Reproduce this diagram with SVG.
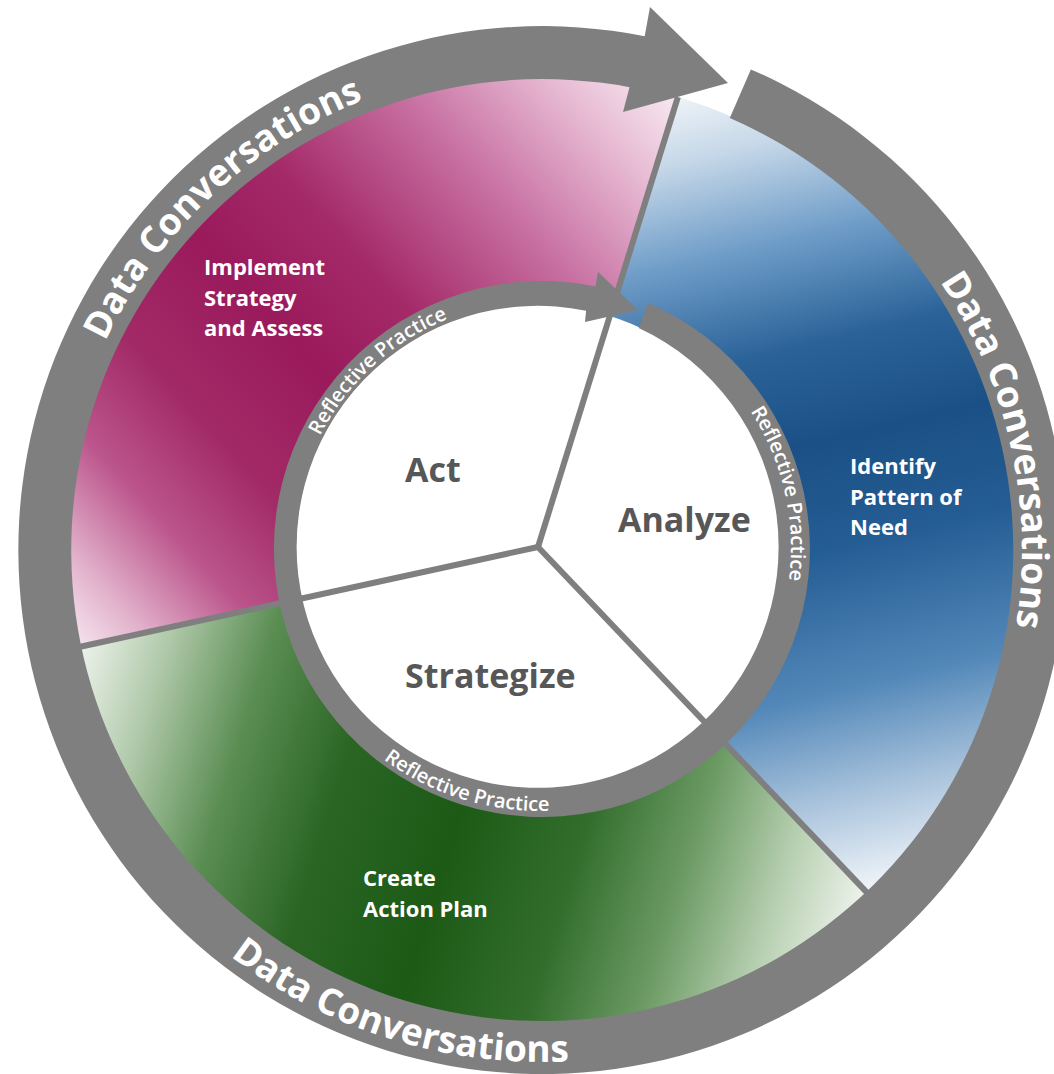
<svg xmlns="http://www.w3.org/2000/svg" width="1054" height="1074" viewBox="0 0 1054 1074">
<defs>
<linearGradient id="gPink" gradientUnits="userSpaceOnUse" x1="678" y1="97" x2="79" y2="647">
<stop offset="0" stop-color="#f7e9f1"/>
<stop offset="0.1" stop-color="#e7bad3"/>
<stop offset="0.25" stop-color="#c76fa1"/>
<stop offset="0.42" stop-color="#a42a68"/>
<stop offset="0.55" stop-color="#9a1a5c"/>
<stop offset="0.7" stop-color="#a22a66"/>
<stop offset="0.82" stop-color="#bb558b"/>
<stop offset="0.93" stop-color="#e2b2cc"/>
<stop offset="1" stop-color="#f5e4ee"/>
</linearGradient>
<linearGradient id="gBlue" gradientUnits="userSpaceOnUse" x1="678" y1="97" x2="867" y2="893">
<stop offset="0" stop-color="#eef3f8"/>
<stop offset="0.08" stop-color="#c5d7e8"/>
<stop offset="0.2" stop-color="#6f9dc8"/>
<stop offset="0.33" stop-color="#2b6399"/>
<stop offset="0.45" stop-color="#1a5085"/>
<stop offset="0.58" stop-color="#245d94"/>
<stop offset="0.75" stop-color="#5287b8"/>
<stop offset="0.88" stop-color="#a9c3dc"/>
<stop offset="1" stop-color="#f2f6fa"/>
</linearGradient>
<linearGradient id="gGreen" gradientUnits="userSpaceOnUse" x1="867" y1="893" x2="79" y2="647">
<stop offset="0" stop-color="#eef3ec"/>
<stop offset="0.1" stop-color="#b8d0b2"/>
<stop offset="0.22" stop-color="#6b9a63"/>
<stop offset="0.35" stop-color="#326d2c"/>
<stop offset="0.5" stop-color="#1c5a16"/>
<stop offset="0.65" stop-color="#2a6524"/>
<stop offset="0.78" stop-color="#5a8d52"/>
<stop offset="0.9" stop-color="#b0c9aa"/>
<stop offset="1" stop-color="#eef3ec"/>
</linearGradient>
<path id="tpOuterTL" d="M105.1,341.6 A484,484 0 0 1 499.8,67.8"/>
<path id="tpOuterR" d="M939.9,281.6 A480,480 0 0 1 993.1,714.2"/>
<path id="tpOuterB" d="M230.3,956.2 A512,512 0 0 0 674.5,1044.5"/>
<path id="tpInnerTL" d="M319.9,435.9 A247,247 0 0 1 505.6,303.4"/>
<path id="tpInnerR" d="M750.5,411.3 A251,251 0 0 1 782.4,613.0"/>
<path id="tpInnerB" d="M383.6,759.4 A263,263 0 0 0 629.9,795.1"/>
</defs>
<style>
.ring{fill:#7f7f7f}
.div{stroke:#7f7f7f;stroke-width:6;stroke-linecap:butt;fill:none}
.outer{font-family:"Open Sans","Liberation Sans",sans-serif;font-weight:700;font-size:37px;fill:#ffffff}
.inner{font-family:"Open Sans","Liberation Sans",sans-serif;font-weight:600;font-size:20px;fill:#ffffff}
.lbl{font-family:"Open Sans","Liberation Sans",sans-serif;font-weight:700;font-size:22px;fill:#ffffff}
.core{font-family:"Open Sans","Liberation Sans",sans-serif;font-weight:700;font-size:34px;fill:#575757}
</style>
<g id="sector-implement">
<path d="M538,547 L79.1,647.0 A473,473 0 0 1 677.9,97.0 Z" fill="url(#gPink)"/>
</g>
<g id="sector-identify">
<path d="M538,547 L677.9,97.0 A473,473 0 0 1 867.5,893.1 Z" fill="url(#gBlue)"/>
</g>
<g id="sector-create">
<path d="M538,547 L867.5,893.1 A473,473 0 0 1 79.1,647.0 Z" fill="url(#gGreen)"/>
</g>
<g id="core-disk">
<circle cx="538" cy="547" r="242" fill="#ffffff"/>
</g>
<g id="connectors">
<line class="div" x1="538" y1="547" x2="677.9" y2="97.0"/>
<line class="div" x1="538" y1="547" x2="867.5" y2="893.1"/>
<line class="div" x1="538" y1="547" x2="79.1" y2="647.0"/>
</g>
<g id="reflective-ring">
<path class="ring" d="M648,302.9 A268,268 0 1 1 595.4,286.4 L598,272 L638,310 L585,322 L586.1,310.8 A241,241 0 1 0 638.7,328.1 Z"/>
<text class="inner"><textPath href="#tpInnerTL">Reflective Practice</textPath></text>
<text class="inner"><textPath href="#tpInnerR">Reflective Practice</textPath></text>
<text class="inner"><textPath href="#tpInnerB">Reflective Practice</textPath></text>
</g>
<g id="data-ring">
<path class="ring" d="M750.9,69.4 A524,524 0 1 1 644.7,36.2 L650,7 L728,83 L623,112 L629.5,87.2 A471,471 0 1 0 729.8,118.0 Z"/>
<text class="outer"><textPath href="#tpOuterTL">Data Conversations</textPath></text>
<text class="outer"><textPath href="#tpOuterR">Data Conversations</textPath></text>
<text class="outer"><textPath href="#tpOuterB">Data Conversations</textPath></text>
</g>
<g id="label-implement">
<text class="lbl" x="204" y="275">Implement<tspan x="204" y="305.5">Strategy</tspan><tspan x="204" y="336">and Assess</tspan></text>
</g>
<g id="label-identify">
<text class="lbl" x="850" y="474">Identify<tspan x="850" y="504.5">Pattern of</tspan><tspan x="850" y="535">Need</tspan></text>
</g>
<g id="label-create">
<text class="lbl" x="363" y="886">Create<tspan x="363" y="916.5">Action Plan</tspan></text>
</g>
<g id="node-act"><text class="core" x="405" y="482">Act</text></g>
<g id="node-analyze"><text class="core" x="618" y="532">Analyze</text></g>
<g id="node-strategize"><text class="core" x="405" y="688">Strategize</text></g>
</svg>
